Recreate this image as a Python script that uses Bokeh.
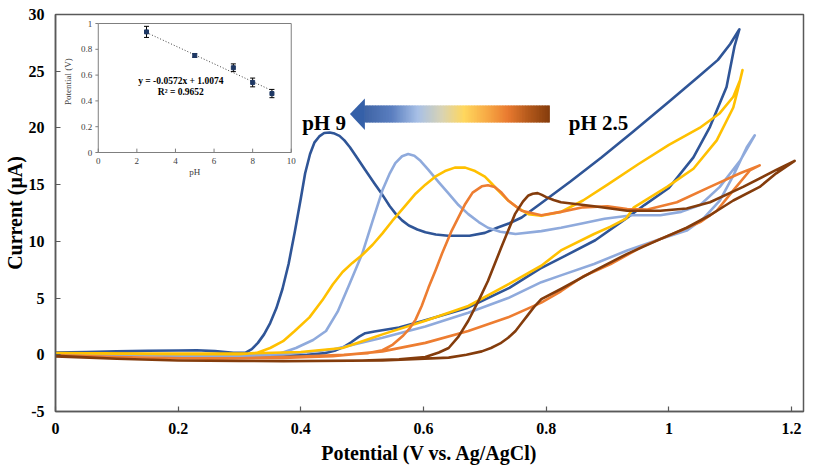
from bokeh.plotting import figure
from bokeh.models import Range1d, FixedTicker
from bokeh.core.properties import value
from bokeh.embed import file_html
from bokeh.resources import INLINE
import math

# ---------------- data: cyclic voltammograms (Potential V, Current uA) ----------------
ph9_x = [0, 0.05, 0.10, 0.15, 0.20, 0.23, 0.26, 0.29, 0.31, 0.32, 0.33, 0.34, 0.35, 0.36, 0.37, 0.38,
         0.39, 0.40, 0.407, 0.415, 0.422, 0.43, 0.438, 0.447, 0.455, 0.463, 0.471, 0.48, 0.49, 0.505,
         0.52, 0.533, 0.545, 0.555, 0.565, 0.576, 0.59, 0.603, 0.62, 0.64, 0.675, 0.70, 0.72, 0.74,
         0.76, 0.79, 0.84, 0.89, 0.94, 1.0, 1.05, 1.08, 1.10, 1.115,
         1.107, 1.094, 1.067, 1.04, 1.0, 0.96, 0.93, 0.88, 0.83, 0.79, 0.74, 0.67, 0.60, 0.56, 0.52,
         0.505, 0.495, 0.482, 0.47, 0.455, 0.44, 0.41, 0.35, 0.25, 0.15, 0.05, 0]
ph9_y = [0.2, 0.25, 0.3, 0.35, 0.38, 0.4, 0.32, 0.18, 0.2, 0.5, 1.05, 1.8, 2.8, 4.1, 5.8, 8.0,
         10.8, 13.8, 16.0, 17.7, 18.7, 19.25, 19.55, 19.6, 19.5, 19.3, 18.9, 18.3, 17.5, 16.3,
         15.1, 14.1, 13.1, 12.4, 11.85, 11.4, 11.05, 10.8, 10.6, 10.5, 10.5, 10.75, 11.2, 11.6,
         12.1, 13.3, 15.3, 17.4, 19.6, 22.3, 24.6, 26.0, 27.4, 28.7,
         27.2, 23.6, 20.1, 17.4, 14.7, 13.2, 12.0, 10.1, 8.7, 7.6, 5.9, 4.1, 3.0, 2.4, 2.05,
         1.9, 1.6, 1.1, 0.7, 0.35, 0.15, 0.0, -0.05, 0.0, 0.05, 0.1, 0.15]

ph8_x = [0, 0.1, 0.2, 0.3, 0.36, 0.392, 0.42, 0.441, 0.46, 0.479, 0.5, 0.517, 0.533, 0.545, 0.554,
         0.565, 0.575, 0.585, 0.595, 0.608, 0.625, 0.641, 0.657, 0.673, 0.69, 0.705, 0.725, 0.75,
         0.792, 0.824, 0.86, 0.895, 0.94, 0.986, 1.02, 1.051, 1.083, 1.116, 1.14,
         1.127, 1.105, 1.083, 1.056, 1.029, 0.986, 0.932, 0.878, 0.824, 0.792, 0.738, 0.673, 0.603,
         0.533, 0.452, 0.371, 0.25, 0.1, 0]
ph8_y = [0.05, 0.0, -0.1, -0.15, 0.0, 0.6, 1.3, 2.1, 3.8, 6.2, 8.9, 11.8, 14.5, 16.0, 16.9,
         17.5, 17.7, 17.55, 17.1, 16.3, 15.2, 14.2, 13.2, 12.4, 11.7, 11.2, 10.85, 10.65,
         10.9, 11.2, 11.6, 12.0, 12.3, 12.3, 12.6, 13.2, 14.8, 17.1, 19.35,
         18.3, 15.8, 13.6, 12.0, 10.95, 10.2, 9.2, 8.0, 7.0, 6.4, 5.0, 3.7, 2.5,
         1.5, 0.47, 0.03, -0.1, 0.0, 0.05]

ph7_x = [0, 0.1, 0.2, 0.3, 0.328, 0.35, 0.371, 0.39, 0.414, 0.435, 0.452, 0.468, 0.484, 0.5, 0.517,
         0.533, 0.549, 0.568, 0.587, 0.603, 0.619, 0.635, 0.651, 0.668, 0.684, 0.70, 0.711, 0.725,
         0.738, 0.755, 0.771, 0.792, 0.824, 0.86, 0.9, 0.95, 1.0, 1.05, 1.083, 1.105, 1.116, 1.12,
         1.113, 1.105, 1.078, 1.04, 0.997, 0.943, 0.93, 0.905, 0.878, 0.824, 0.792, 0.738, 0.673,
         0.603, 0.533, 0.517, 0.468, 0.40, 0.3, 0.15, 0]
ph7_y = [0.15, 0.1, 0.05, 0.05, 0.17, 0.6, 1.2, 2.1, 3.3, 4.8, 6.2, 7.3, 8.1, 8.8, 9.7,
         10.7, 11.8, 13.0, 14.2, 15.0, 15.7, 16.2, 16.5, 16.5, 16.2, 15.7, 15.1, 14.3,
         13.6, 12.9, 12.4, 12.25, 12.6, 13.6, 15.0, 16.8, 18.5, 20.0, 21.3, 22.75, 24.2, 25.1,
         23.5, 21.8, 18.9, 16.4, 14.8, 13.0, 12.0, 11.3, 10.65, 9.2, 7.85, 6.2, 4.3,
         3.0, 1.8, 1.5, 0.6, 0.25, 0.1, 0.1, 0.15]

ph5_x = [0, 0.1, 0.2, 0.3, 0.4, 0.47, 0.51, 0.533, 0.55, 0.567, 0.577, 0.587, 0.597, 0.608, 0.62,
         0.63, 0.646, 0.668, 0.68, 0.695, 0.705, 0.716, 0.727, 0.738, 0.76, 0.792, 0.824, 0.86,
         0.90, 0.932, 0.965, 1.013, 1.067, 1.116, 1.148,
         1.132, 1.105, 1.078, 1.051, 1.013, 0.959, 0.905, 0.86, 0.824, 0.792, 0.738, 0.673, 0.603,
         0.533, 0.452, 0.371, 0.25, 0.1, 0]
ph5_y = [-0.05, -0.2, -0.3, -0.3, -0.15, 0.0, 0.15, 0.4, 0.9, 1.7, 2.3, 3.1, 4.3, 5.9, 7.5,
         8.9, 10.95, 13.3, 14.3, 14.85, 14.95, 14.8, 14.3, 13.6, 12.7, 12.3, 12.6, 13.0,
         13.1, 12.85, 12.8, 13.45, 14.8, 16.0, 16.7,
         16.25, 14.5, 12.7, 11.7, 10.8, 9.6, 8.0, 6.9, 5.6, 4.6, 3.3, 2.1, 1.05,
         0.3, -0.12, -0.27, -0.35, -0.2, -0.05]

ph25_x = [0, 0.1, 0.2, 0.3, 0.4, 0.5, 0.56, 0.603, 0.625, 0.641, 0.657, 0.673, 0.69, 0.705, 0.727,
          0.749, 0.762, 0.771, 0.778, 0.786, 0.793, 0.80, 0.812, 0.824, 0.878, 0.932, 0.986, 1.029,
          1.067, 1.121, 1.175, 1.205,
          1.175, 1.148, 1.105, 1.067, 1.029, 0.986, 0.932, 0.878, 0.824, 0.792, 0.78, 0.77, 0.76,
          0.75, 0.738, 0.725, 0.71, 0.695, 0.67, 0.641, 0.533, 0.371, 0.2, 0.1, 0]
ph25_y = [-0.1, -0.35, -0.5, -0.55, -0.55, -0.5, -0.4, -0.2, 0.2, 0.6, 1.6, 3.0, 4.8, 6.5, 9.5,
          12.4, 13.5, 14.05, 14.2, 14.25, 14.1, 13.9, 13.65, 13.45, 13.1, 12.7, 12.7, 12.9,
          13.45, 14.8, 16.3, 17.1,
          16.0, 14.8, 13.6, 12.3, 11.2, 10.2, 8.9, 7.4, 5.8, 4.9, 4.2, 3.5, 2.8,
          2.1, 1.5, 1.0, 0.6, 0.3, 0.0, -0.25, -0.5, -0.57, -0.5, -0.35, -0.15]

series = [
    (ph9_x, ph9_y, "#2F5597"),
    (ph8_x, ph8_y, "#8FAADC"),
    (ph7_x, ph7_y, "#FFC000"),
    (ph5_x, ph5_y, "#ED7D31"),
    (ph25_x, ph25_y, "#843C0C"),
]

x_ticks = [0, 0.2, 0.4, 0.6, 0.8, 1.0, 1.2]
x_tick_labels = ["0", "0.2", "0.4", "0.6", "0.8", "1", "1.2"]
y_ticks = [-5, 0, 5, 10, 15, 20, 25, 30]
y_tick_labels = ["-5", "0", "5", "10", "15", "20", "25", "30"]

# ---------------- inset data: peak potential vs pH ----------------
inset_ph = [2.5, 5, 7, 8, 9]
inset_pot = [0.935, 0.752, 0.657, 0.543, 0.457]
inset_err = [0.043, 0.014, 0.03, 0.034, 0.032]
trend_x = [2.5, 9]
trend_y = [0.93, 0.48]
inset_x_ticks = [0, 2, 4, 6, 8, 10]
inset_x_labels = ["0", "2", "4", "6", "8", "10"]
inset_y_ticks = [0, 0.2, 0.4, 0.6, 0.8, 1]
inset_y_labels = ["0", "0.2", "0.4", "0.6", "0.8", "1"]
equation = "y = -0.0572x + 1.0074"
r2_text = "R² = 0.9652"

# ---------------- layout constants (pixels) ----------------
W, H = 816, 471
FL, FR, FT, FB = 51, 803, 14, 411
X_PER_PX = 1.2 / (791 - 51)
X_END = (FR - FL) * X_PER_PX
SERIF = "Liberation Serif"
AX = "#595959"

p = figure(width=W, height=H, x_range=Range1d(0, X_END), y_range=Range1d(-5, 30),
           output_backend="svg", toolbar_location=None,
           min_border_left=FL, min_border_right=W - FR, min_border_top=FT, min_border_bottom=H - FB)
p.background_fill_color = "white"
p.border_fill_color = "white"
p.outline_line_color = AX
p.outline_line_width = 1.5
p.xgrid.visible = False
p.ygrid.visible = False

for ax in (p.xaxis[0], p.yaxis[0]):
    ax.axis_line_color = AX
    ax.axis_line_width = 1.5
    ax.major_tick_line_color = AX
    ax.major_tick_line_width = 1.2
    ax.major_tick_in = 5
    ax.major_tick_out = 0
    ax.minor_tick_line_color = None
    ax.major_label_text_font = SERIF
    ax.major_label_text_font_style = "bold"
    ax.major_label_text_font_size = "16px"
    ax.major_label_text_color = "black"
    ax.axis_label_text_font = SERIF
    ax.axis_label_text_font_style = "bold"
    ax.axis_label_text_color = "black"

p.xaxis.ticker = FixedTicker(ticks=x_ticks)
p.xaxis.major_label_overrides = {t: l for t, l in zip(x_ticks, x_tick_labels)}
p.yaxis.ticker = FixedTicker(ticks=y_ticks)
p.yaxis.major_label_overrides = {t: l for t, l in zip(y_ticks, y_tick_labels)}
p.xaxis.axis_label = "Potential (V vs. Ag/AgCl)"
p.yaxis.axis_label = "Current (μA)"
p.xaxis.axis_label_text_font_size = "20px"
p.yaxis.axis_label_text_font_size = "20px"
p.xaxis.major_label_standoff = 11
p.yaxis.major_label_standoff = 11
p.xaxis.axis_label_standoff = 5
p.yaxis.axis_label_standoff = 0

# ---------------- curves ----------------
for xs, ys, c in series:
    p.line(xs, ys, line_color=c, line_width=2.6, line_join="round", line_cap="round")

# ---------------- gradient arrow ----------------
def px_x(px):
    return (px - FL) * X_PER_PX

Y_PER_PX = 35.0 / (FB - FT)
def px_y(py):
    return 30 - (py - FT) * Y_PER_PX

tip_x, base_x, end_x = px_x(347), px_x(362), px_x(548)
mid_y = px_y(113.5)
body_top, body_bot = px_y(105), px_y(122)
head_top, head_bot = px_y(98), px_y(129.5)

stops = [(0.0, "#2F5597"), (0.21, "#5B7FC0"), (0.34, "#A8C0E6"), (0.46, "#D8D3B4"),
         (0.57, "#FFD75E"), (0.69, "#F7A844"), (0.79, "#E97A30"), (0.89, "#B55A1C"), (1.0, "#843C0C")]

def hex2rgb(h):
    return tuple(int(h[i:i + 2], 16) for i in (1, 3, 5))

def grad(t):
    for (t0, c0), (t1, c1) in zip(stops[:-1], stops[1:]):
        if t0 <= t <= t1:
            f = (t - t0) / (t1 - t0) if t1 > t0 else 0
            a, b = hex2rgb(c0), hex2rgb(c1)
            return "#%02x%02x%02x" % tuple(round(a[k] + (b[k] - a[k]) * f) for k in range(3))
    return stops[-1][1]

N = 120
span = end_x - tip_x
lefts, rights, cols = [], [], []
for i in range(N):
    l = base_x - 0.001 + (end_x - base_x + 0.001) * i / N
    r = base_x - 0.001 + (end_x - base_x + 0.001) * (i + 1) / N
    lefts.append(l)
    rights.append(r + (r - l) * 0.6 if i < N - 1 else r)
    cols.append(grad(((l + r) / 2 - tip_x) / span))
p.quad(left=lefts, right=rights, top=body_top, bottom=body_bot, fill_color=cols, line_color=None)
p.patch([tip_x, base_x, base_x], [mid_y, head_top, head_bot], fill_color="#3560A8", line_color=None)

p.text([px_x(299)], [px_y(122)], text=["pH 9"], text_font=value(SERIF), text_font_style="bold",
       text_font_size="21px", text_color="black", text_align="left", text_baseline="alphabetic")
p.text([px_x(567)], [px_y(122)], text=["pH 2.5"], text_font=value(SERIF), text_font_style="bold",
       text_font_size="21px", text_color="black", text_align="left", text_baseline="alphabetic")

# ---------------- inset (drawn on extra ranges) ----------------
IL, IR, IT, IB = 94, 288, 23, 152
sx = (IR - IL) / 10.0
sy = (IB - IT) / 1.0
p.extra_x_ranges = {"ix": Range1d(-(IL - FL) / sx, 10 + (FR - IR) / sx)}
p.extra_y_ranges = {"iy": Range1d(-(FB - IB) / sy, 1 + (IT - FT) / sy)}
kw = dict(x_range_name="ix", y_range_name="iy")
IC = "#7F7F7F"

p.quad(left=[0], right=[10], top=[1], bottom=[0], fill_color="white", line_color=IC, line_width=1, **kw)
p.segment(x0=[-0.15] * len(inset_y_ticks), x1=[0] * len(inset_y_ticks), y0=inset_y_ticks, y1=inset_y_ticks,
          line_color=IC, line_width=1, **kw)
p.segment(x0=inset_x_ticks, x1=inset_x_ticks, y0=[0] * len(inset_x_ticks), y1=[0.03] * len(inset_x_ticks),
          line_color=IC, line_width=1, **kw)
p.text(x=[0] * len(inset_y_ticks), y=inset_y_ticks, text=inset_y_labels, x_offset=-6,
       text_font=value(SERIF), text_font_size="9px", text_color="#404040",
       text_align="right", text_baseline="middle", **kw)
p.text(x=inset_x_ticks, y=[0] * len(inset_x_ticks), text=inset_x_labels, y_offset=5,
       text_font=value(SERIF), text_font_size="9px", text_color="#404040",
       text_align="center", text_baseline="top", **kw)
p.text(x=[-(IL - 64) / sx], y=[0.55], text=["Potential (V)"], angle=math.pi / 2,
       text_font=value(SERIF), text_font_size="9px", text_color="#404040",
       text_align="center", text_baseline="middle", **kw)
p.text(x=[5], y=[-(171 - IB) / sy], text=["pH"],
       text_font=value(SERIF), text_font_size="9px", text_color="#404040",
       text_align="center", text_baseline="middle", **kw)

p.line(trend_x, trend_y, line_color="#404040", line_width=1, line_dash="1 2", **kw)
cap = 0.13
lo = [v - e for v, e in zip(inset_pot, inset_err)]
hi = [v + e for v, e in zip(inset_pot, inset_err)]
p.segment(x0=inset_ph, x1=inset_ph, y0=lo, y1=hi, line_color="black", line_width=1, **kw)
p.segment(x0=[v - cap for v in inset_ph], x1=[v + cap for v in inset_ph], y0=lo, y1=lo,
          line_color="black", line_width=1, **kw)
p.segment(x0=[v - cap for v in inset_ph], x1=[v + cap for v in inset_ph], y0=hi, y1=hi,
          line_color="black", line_width=1, **kw)
p.scatter(inset_ph, inset_pot, marker="square", size=4, fill_color="#1F3864", line_color="#1F3864", **kw)

p.text(x=[(177 - IL) / sx], y=[(IB - 80) / sy], text=[equation], text_font=value(SERIF),
       text_font_style="bold", text_font_size="9.5px", text_color="black",
       text_align="center", text_baseline="middle", **kw)
p.text(x=[(177 - IL) / sx], y=[(IB - 91) / sy], text=[r2_text], text_font=value(SERIF),
       text_font_style="bold", text_font_size="9.5px", text_color="black",
       text_align="center", text_baseline="middle", **kw)

open("out.html", "w").write(file_html(p, INLINE))
